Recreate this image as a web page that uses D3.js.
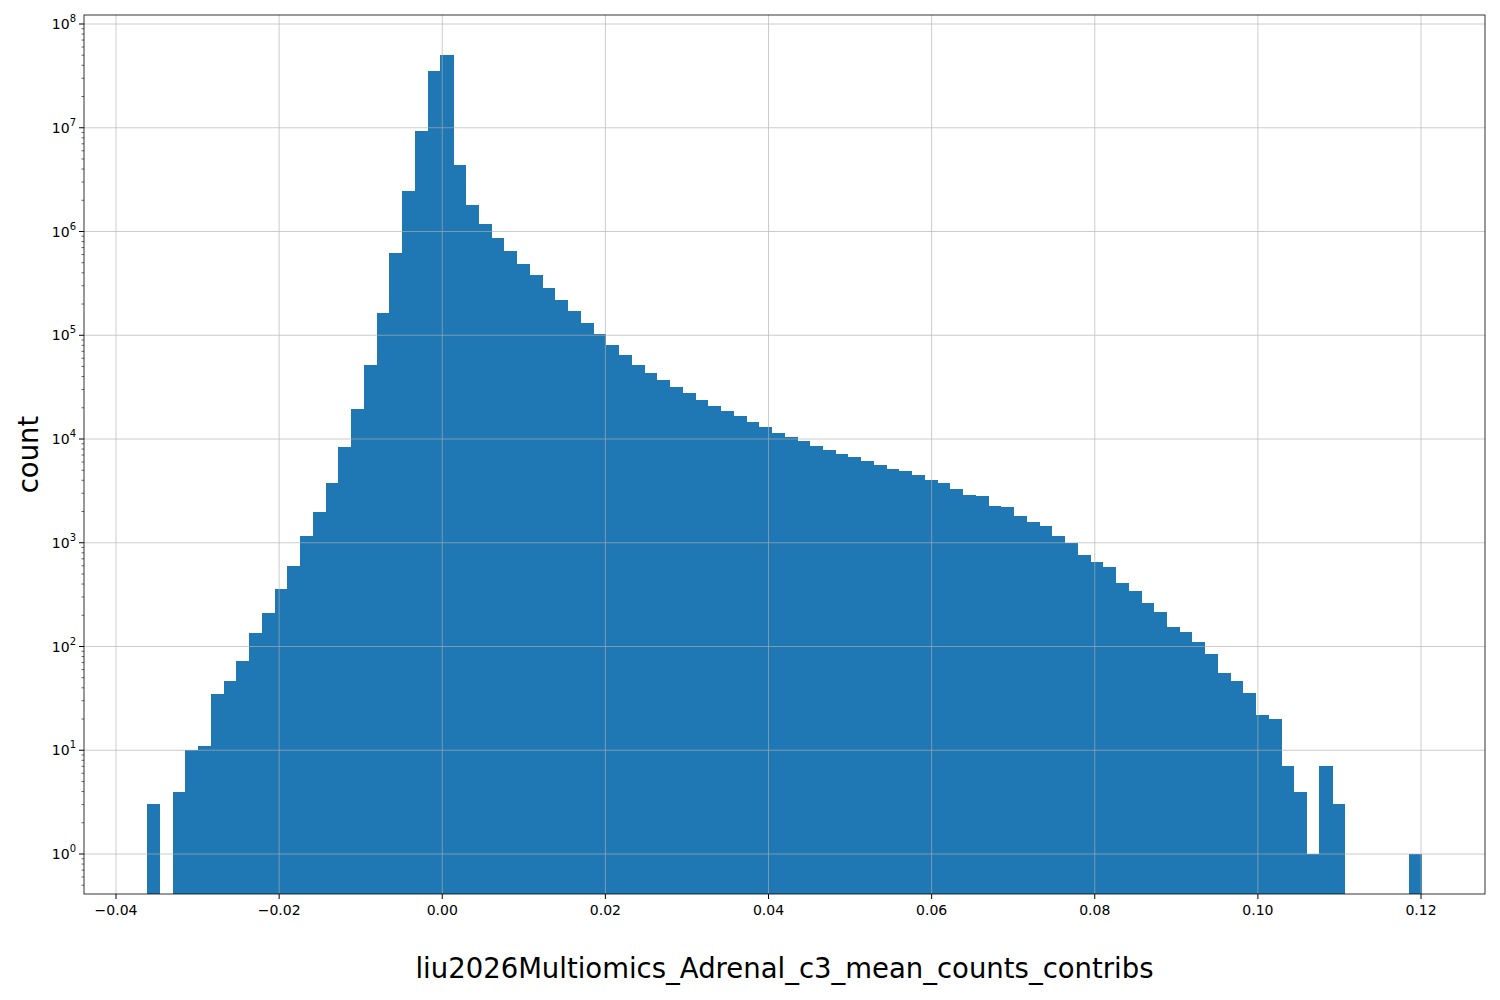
<!DOCTYPE html>
<html><head><meta charset="utf-8">
<script src="https://cdn.jsdelivr.net/npm/d3@7"></script>
<style>body{margin:0;background:#fff}</style></head>
<body><svg id="c" width="1500" height="1000"></svg>
<script>
const binStart = -0.03617;
const binEnd = 0.12004;
const counts = [3,0,4,10,11,35,46,72,135,210,360,600,1150,2000,3800,8300,19500,52000,165000,620000,
2450000,9300000,35000000,50000000,4400000,1800000,1170000,870000,650000,490000,
380000,285000,220000,170000,130000,102000,80000,64000,52000,43000,
37000,31500,27500,24000,21000,18500,16500,14500,13000,11500,
10500,9500,8500,7800,7200,6700,6200,5600,5100,4900,
4500,4000,3800,3300,2900,2800,2250,2200,1800,1600,
1450,1150,1000,770,650,590,410,340,265,215,
155,138,110,85,55,46,36,22,20,7,
4,1,7,3,0,0,0,0,0,1];
const xTicks = [-0.04,-0.02,0,0.02,0.04,0.06,0.08,0.10,0.12];
const yExps = [0,1,2,3,4,5,6,7,8];
const xLabel = "liu2026Multiomics_Adrenal_c3_mean_counts_contribs";
const yLabel = "count";

const L=84,R=1485,T=15,B=894;
const svg=d3.select("#c");
const x=d3.scaleLinear().domain([-0.04,0.12]).range([116,1421]);
const y=d3.scaleLog().domain([10**(-40/103.75),10**(8+9/103.75)]).range([B,T]);
const bw=(binEnd-binStart)/counts.length;
const font="DejaVu Sans, sans-serif";
svg.append("g").attr("shape-rendering","crispEdges").selectAll("rect").data(counts.map((c,i)=>({c,i})).filter(d=>d.c>0)).join("rect")
 .attr("x",d=>x(binStart+d.i*bw)).attr("width",d=>x(binStart+(d.i+1)*bw)-x(binStart+d.i*bw)+0.5)
 .attr("y",d=>y(d.c)).attr("height",d=>B-y(d.c)).attr("fill","#1f77b4");
const g=svg.append("g").attr("stroke","#b0b0b0").attr("stroke-width",0.8).attr("opacity",0.8);
xTicks.forEach(t=>g.append("line").attr("x1",x(t)).attr("x2",x(t)).attr("y1",T).attr("y2",B));
yExps.forEach(e=>g.append("line").attr("x1",L).attr("x2",R).attr("y1",y(10**e)).attr("y2",y(10**e)));
svg.append("rect").attr("x",L).attr("y",T).attr("width",R-L).attr("height",B-T).attr("fill","none").attr("stroke","#000").attr("stroke-width",0.8);
const fmt=t=>(t<0?"\u2212":"")+Math.abs(t).toFixed(2);
xTicks.forEach(t=>{
 svg.append("line").attr("x1",x(t)).attr("x2",x(t)).attr("y1",B).attr("y2",B+5).attr("stroke","#000");
 svg.append("text").attr("x",x(t)).attr("y",B+21).attr("text-anchor","middle").attr("font-family",font).attr("font-size",14).text(fmt(t));
});
yExps.forEach(e=>{
 const yy=y(10**e);
 svg.append("line").attr("x1",L-5).attr("x2",L).attr("y1",yy).attr("y2",yy).attr("stroke","#000");
 const tx=svg.append("text").attr("x",L-8).attr("y",yy+5).attr("text-anchor","end").attr("font-family",font).attr("font-size",14);
 tx.append("tspan").text("10");
 tx.append("tspan").attr("dy",-7).attr("font-size",10).text(e);
 for(let m=2;m<10;m++){const v=m*10**(e-1);if(y(v)<B&&y(v)>T)svg.append("line").attr("x1",L-2.5).attr("x2",L).attr("y1",y(v)).attr("y2",y(v)).attr("stroke","#000").attr("stroke-width",0.6);}
});
for(let m=2;m<10;m++){const v=m*1e8;if(y(v)>T)svg.append("line").attr("x1",L-2.5).attr("x2",L).attr("y1",y(v)).attr("y2",y(v)).attr("stroke","#000").attr("stroke-width",0.6);}
svg.append("text").attr("x",(L+R)/2).attr("y",978).attr("text-anchor","middle").attr("font-family",font).attr("font-size",27.5).text(xLabel);
svg.append("text").attr("transform",`translate(38,${(T+B)/2}) rotate(-90)`).attr("text-anchor","middle").attr("font-family",font).attr("font-size",27.5).text(yLabel);
</script></body></html>
